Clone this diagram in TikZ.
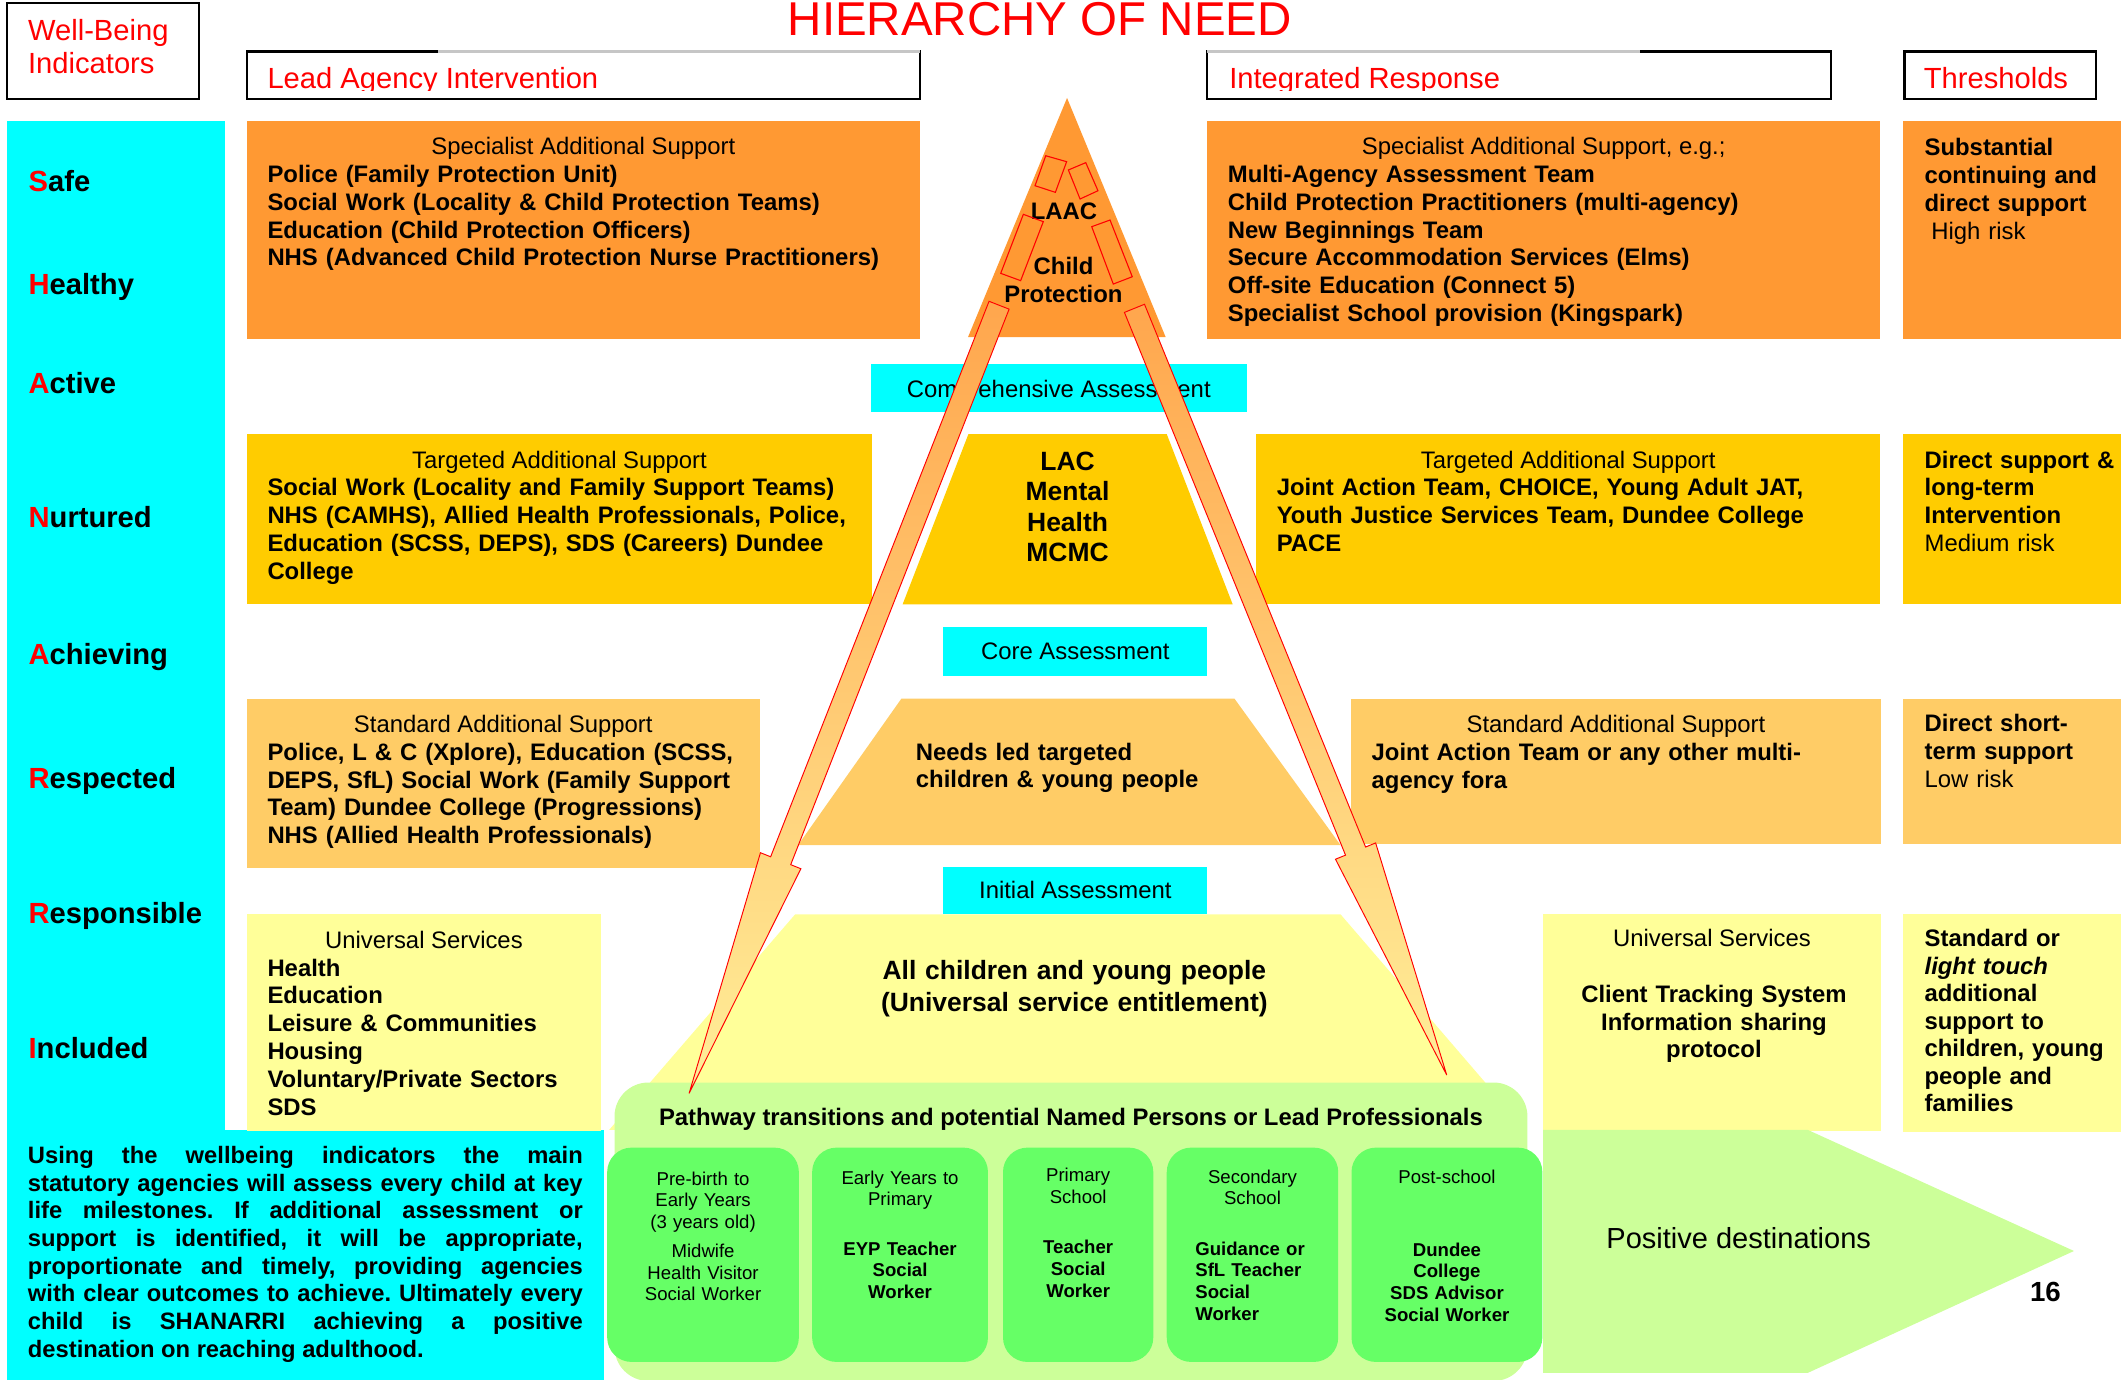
\documentclass[tikz,border=0pt]{standalone}
\usepackage{fontspec}
\setmainfont{Liberation Sans}
\usetikzlibrary{positioning, calc}

\definecolor{shanCyan}{HTML}{00FFFF}
\definecolor{tierOne}{HTML}{FF9933}
\definecolor{tierTwo}{HTML}{FFCC00}
\definecolor{tierThree}{HTML}{FFCC66}
\definecolor{tierFour}{HTML}{FFFF99}
\definecolor{paleGreen}{HTML}{CCFF99}
\definecolor{stageGreen}{HTML}{66FF66}
\definecolor{arrowTop}{HTML}{FFA64D}
\definecolor{arrowBot}{HTML}{FFEE99}

\newcommand{\bodyfont}{\fontsize{17.6}{20.5}\selectfont}
\newcommand{\headfont}{\fontsize{21.5}{25}\selectfont}
\newcommand{\stagefont}{\fontsize{13.7}{16}\selectfont}
\newcommand{\bigfont}{\fontsize{19.5}{22.5}\selectfont}
\newcommand{\notefont}{\fontsize{17.5}{20.43}\selectfont\frenchspacing}

\begin{document}
\begin{tikzpicture}[
    x=1pt, y=-1pt,          % pixel-like grid, y downwards
    panel/.style={inner sep=0pt, outer sep=0pt, anchor=north west, draw=none},
    hdrbox/.style={panel, draw=black, line width=1.6pt, fill=white, minimum height=35pt},
    hdrtext/.style={inner sep=0pt, anchor=base west, text=red, font=\headfont},
    ttl/.style={inner sep=0pt, anchor=base, font=\bodyfont},
    listtext/.style={inner sep=0pt, anchor=base west, text width=480pt, align=left, font=\bfseries\bodyfont},
    risk/.style={inner sep=0pt, anchor=base west, text width=150pt, align=left, font=\bodyfont},
    shantext/.style={inner sep=0pt, anchor=base west, font=\bfseries\headfont},
    midtext/.style={inner sep=0pt, anchor=base, text width=300pt, align=center, font=\bfseries\bodyfont},
    assess/.style={panel, fill=shanCyan},
    stage/.style={panel, fill=stageGreen, rounded corners=18pt, minimum height=158pt},
    stagetext/.style={inner sep=0pt, anchor=base, text width=140pt, align=center, font=\stagefont},
    remnant/.style={draw=red, line width=0.8pt},
    pathway/.style={draw=red, line width=0.7pt, top color=arrowTop, bottom color=arrowBot}
]
    \useasboundingbox (0,0) rectangle (1568,1017);

    % --- 1. header row ---
    \node[inner sep=0pt, anchor=base, text=red, font=\fontsize{35}{40}\selectfont] (title) at (766.5,26) {HIERARCHY OF NEED};

    \node[hdrbox, minimum width=142pt, minimum height=71pt] (wbBox) at (5,2) {};
    \node[hdrtext, text width=120pt, align=left] (wbText) at (20.5,29.5) {Well-Being\\Indicators};

    \node[hdrbox, minimum width=496pt] (leadBox) at (182,38) {};
    \node[hdrbox, minimum width=460pt] (intBox) at (890,38) {};
    \node[hdrbox, minimum width=141pt] (threshBox) at (1404,38) {};
    \draw[gray!45, line width=1.6pt] ([xshift=141pt]leadBox.north west) -- (leadBox.north east);
    \draw[gray!45, line width=1.6pt] (intBox.north west) -- ([xshift=319pt]intBox.north west);

    \begin{scope}
        \clip (0,0) rectangle (1568,67);
        \node[hdrtext] (leadText) at (197,65) {Lead Agency Intervention};
        \node[hdrtext] (intText) at (906,65) {Integrated Response};
        \node[hdrtext] (threshText) at (1418,65) {Thresholds};
    \end{scope}

    % --- 2. wellbeing column ---
    \node[panel, fill=shanCyan, minimum width=160.5pt, minimum height=744pt] (shanCol) at (5,89.5) {};
    \node[panel, fill=shanCyan, minimum width=440.5pt, minimum height=185pt] (noteBox) at (5,833) {};

    \foreach \first/\rest/\yy [count=\i] in {S/afe/141.4, H/ealthy/216.8, A/ctive/290.1,
        N/urtured/389.2, A/chieving/490, R/espected/581.2, R/esponsible/681, I/ncluded/780.2}
        \node[shantext] (shan\i) at (20.9,\yy) {\textcolor{red}{\first}\rest};

    % --- 3. tier one: specialist ---
    \node[panel, fill=tierOne, minimum width=496pt, minimum height=160.5pt] (specLeft) at (182,89.5) {};
    \node[ttl] (specLeftTitle) at ([yshift=-24.5pt]specLeft.north) {Specialist Additional Support};
    \node[listtext] (specLeftList) at ([xshift=15pt, yshift=-45pt]specLeft.north west)
        {Police (Family Protection Unit)\\
         Social Work (Locality \& Child Protection Teams)\\
         Education (Child Protection Officers)\\
         NHS (Advanced Child Protection Nurse Practitioners)};

    \node[panel, fill=tierOne, minimum width=496pt, minimum height=160.5pt] (specRight) at (890,89.5) {};
    \node[ttl] (specRightTitle) at ([yshift=-24.5pt]specRight.north) {Specialist Additional Support, e.g.;};
    \node[listtext] (specRightList) at ([xshift=15pt, yshift=-45pt]specRight.north west)
        {Multi-Agency Assessment Team\\
         Child Protection Practitioners (multi-agency)\\
         New Beginnings Team\\
         Secure Accommodation Services (Elms)\\
         Off-site Education (Connect 5)\\
         Specialist School provision (Kingspark)};

    \node[panel, fill=tierOne, minimum width=160.5pt, minimum height=160.5pt] (riskHigh) at (1403,89.5) {};
    \node[risk] (riskHighText) at (1418.6,114.8)
        {{\bfseries Substantial\\continuing and\\direct support}\\\hspace*{5pt}High risk};

    % pyramid top
    \fill[tierOne] (786.6,72.2) coordinate (apex) -- (859.3,248.5) -- (713.6,248.5) -- cycle;
    \node[inner sep=0pt, anchor=base, font=\bfseries\bodyfont] (laac) at (784.3,161.7) {LAAC};
    \node[inner sep=0pt, anchor=base, text width=100pt, align=center, font=\bfseries\bodyfont] (childProt)
        at (784,202.2) {Child\\Protection};
    \draw[remnant] (770.9,114.8) -- (786.3,119.2) -- (778,141.8) -- (763,136.9) -- cycle;
    \draw[remnant] (787.6,125.3) -- (800.4,119.9) -- (809.4,140.6) -- (796.2,146.7) -- cycle;
    \draw[remnant] (754.4,158) -- (769.1,163.4) -- (752.4,206.9) -- (737.7,201.5) -- cycle;
    \draw[remnant] (804.8,167.1) -- (818.3,162.2) -- (834.7,204) -- (820.7,209.4) -- cycle;

    \node[assess, minimum width=277.5pt, minimum height=35.5pt] (compBox) at (642,268) {};
    \node[ttl] (compText) at (780.5,293) {Comprehensive Assessment};

    % --- 4. tier two: targeted ---
    \node[panel, fill=tierTwo, minimum width=461pt, minimum height=125.5pt] (targLeft) at (182,320) {};
    \node[ttl] (targLeftTitle) at ([yshift=-25pt]targLeft.north) {Targeted Additional Support};
    \node[listtext] (targLeftList) at ([xshift=15pt, yshift=-45.5pt]targLeft.north west)
        {Social Work (Locality and Family Support Teams)\\
         NHS (CAMHS), Allied Health Professionals, Police,\\
         Education (SCSS, DEPS), SDS (Careers) Dundee\\
         College};

    \fill[tierTwo] (713.9,320) -- (860.1,320) -- (908.7,445.5) -- (665.4,445.5) -- cycle;
    \node[inner sep=0pt, anchor=base, text width=150pt, align=center, font=\bfseries\bigfont] (lacText)
        at (787,346.5) {LAC\\Mental\\Health\\MCMC};

    \node[panel, fill=tierTwo, minimum width=460pt, minimum height=125.5pt] (targRight) at (926,320) {};
    \node[ttl] (targRightTitle) at ([yshift=-25pt]targRight.north) {Targeted Additional Support};
    \node[listtext] (targRightList) at ([xshift=15pt, yshift=-45.5pt]targRight.north west)
        {Joint Action Team, CHOICE, Young Adult JAT,\\
         Youth Justice Services Team, Dundee College\\
         PACE};

    \node[panel, fill=tierTwo, minimum width=160.5pt, minimum height=125.5pt] (riskMed) at (1403,320) {};
    \node[risk] (riskMedText) at (1418.6,345)
        {{\bfseries Direct support \&\\long-term\\Intervention}\\Medium risk};

    \node[assess, minimum width=194.6pt, minimum height=35.8pt] (coreBox) at (695.4,462.5) {};
    \node[ttl] (coreText) at (792.7,486) {Core Assessment};

    % --- 5. tier three: standard ---
    \node[panel, fill=tierThree, minimum width=378pt, minimum height=124.6pt] (stdLeft) at (182,515) {};
    \node[ttl] (stdLeftTitle) at ([yshift=-25pt]stdLeft.north) {Standard Additional Support};
    \node[listtext] (stdLeftList) at ([xshift=15pt, yshift=-45.5pt]stdLeft.north west)
        {Police, L \& C (Xplore), Education (SCSS,\\
         DEPS, SfL) Social Work (Family Support\\
         Team) Dundee College (Progressions)\\
         NHS (Allied Health Professionals)};

    \fill[tierThree] (664.5,515) -- (910,515) -- (988.2,623) -- (588.3,623) -- cycle;
    \node[listtext] (needsText) at (675,560.3) {Needs led targeted\\children \& young people};

    \node[panel, fill=tierThree, minimum width=390.5pt, minimum height=107.5pt] (stdRight) at (996,515) {};
    \node[ttl] (stdRightTitle) at ([yshift=-25pt]stdRight.north) {Standard Additional Support};
    \node[listtext] (stdRightList) at ([xshift=15pt, yshift=-45.5pt]stdRight.north west)
        {Joint Action Team or any other multi-\\agency fora};

    \node[panel, fill=tierThree, minimum width=160.5pt, minimum height=107.5pt] (riskLow) at (1403,515) {};
    \node[risk] (riskLowText) at (1418.6,539.4)
        {{\bfseries Direct short-\\term support}\\Low risk};

    \node[assess, minimum width=194.6pt, minimum height=34.6pt] (initBox) at (695.4,639.4) {};
    \node[ttl] (initText) at (792.7,662.2) {Initial Assessment};

    % --- 6. tier four: universal ---
    \node[panel, fill=tierFour, minimum width=261pt, minimum height=159.5pt] (uniLeft) at (182,674) {};
    \node[ttl] (uniLeftTitle) at ([yshift=-25pt]uniLeft.north) {Universal Services};
    \node[listtext] (uniLeftList) at ([xshift=15pt, yshift=-45.5pt]uniLeft.north west)
        {Health\\Education\\Leisure \& Communities\\Housing\\Voluntary/Private Sectors\\SDS};

    \fill[tierFour] (586.2,674) -- (988.2,674) -- (1125,833) -- (449,833) -- cycle;
    \node[inner sep=0pt, anchor=base, text width=340pt, align=center, font=\bfseries\fontsize{19.5}{23.4}\selectfont]
        (allText) at (792,722.4) {All children and young people\\(Universal service entitlement)};

    \node[panel, fill=tierFour, minimum width=249pt, minimum height=160.5pt] (uniRight) at (1137.7,673.5) {};
    \node[ttl] (uniRightTitle) at (1262,698) {Universal Services};
    \node[midtext] (uniRightList) at (1263.5,738.8)
        {Client Tracking System\\Information sharing\\protocol};

    \node[panel, fill=tierFour, minimum width=160.5pt, minimum height=160.5pt] (riskStd) at (1403,673.8) {};
    \node[risk, font=\bfseries\fontsize{17.6}{20.27}\selectfont] (riskStdText) at (1418.6,697.9)
        {Standard or\\\textit{light touch}\\additional\\support to\\children, young\\people and\\families};

    % --- 7. note, pathway and destinations ---
    \node[inner sep=0pt, anchor=base west, text width=409pt, align=justify, font=\bfseries\notefont]
        (noteText) at (20.4,857.6)
        {Using the wellbeing indicators the main\linebreak
         statutory agencies will assess every child at key\linebreak
         life milestones. If additional assessment or\linebreak
         support is identified, it will be appropriate,\linebreak
         proportionate and timely, providing agencies\linebreak
         with clear outcomes to achieve. Ultimately every\linebreak
         child is SHANARRI achieving a positive\linebreak
         destination on reaching adulthood.};

    \node[panel, fill=paleGreen, rounded corners=25pt, minimum width=673pt, minimum height=220pt] (pathBox) at (453,798) {};
    \node[ttl, font=\bfseries\bodyfont] (pathTitle) at (789.5,830) {Pathway transitions and potential Named Persons or Lead Professionals};

    \node[stage, minimum width=141.3pt] (stageA) at (447.6,846) {};
    \node[stage, minimum width=129.6pt] (stageB) at (598.7,846) {};
    \node[stage, minimum width=110.8pt] (stageC) at (739.4,846) {};
    \node[stage, minimum width=126.4pt] (stageD) at (860.1,846) {};
    \node[stage, minimum width=140.7pt] (stageE) at (996.3,846) {};

    \node[stagetext] (stageAText) at (518.3,873.6)
        {Pre-birth to\\Early Years\\(3 years old)\\[5.4pt]Midwife\\Health Visitor\\Social Worker};
    \node[stagetext] (stageBText) at (663.5,873)
        {Early Years to\\Primary\\[20.2pt]{\bfseries EYP Teacher\\Social\\Worker}};
    \node[stagetext] (stageCText) at (794.8,871.1)
        {Primary\\School\\[21.3pt]{\bfseries Teacher\\Social\\Worker}};
    \node[stagetext] (stageDText) at (923.3,872.3) {Secondary\\School};
    \node[stagetext, anchor=base west, align=left] (stageDRoles) at (881,925.2)
        {\bfseries Guidance or\\SfL Teacher\\Social\\Worker};
    \node[stagetext] (stageEText) at (1066.7,872.3) {Post-school};
    \node[stagetext, font=\bfseries\stagefont] (stageERoles) at (1066.7,925.9)
        {Dundee\\College\\SDS Advisor\\Social Worker};

    \fill[paleGreen] (1137.6,833) -- (1332.8,833) -- (1528.9,922.2) -- (1332.8,1012) -- (1137.6,1012) -- cycle;
    \node[inner sep=0pt, anchor=base west, font=\fontsize{21.4}{25}\selectfont] (posDest) at (1184,920) {Positive destinations};
    \node[inner sep=0pt, anchor=base, font=\bfseries\fontsize{20.4}{24}\selectfont] (pageNum) at (1507.9,959.8) {16};

    % --- 8. escalation arrows ---
    \path[pathway] (729.1,222.1) -- (743.9,227.9) -- (582.9,637.4) -- (590.4,640.4)
        -- (508,806) -- (560.6,628.6) -- (568.1,631.6) -- cycle;
    \path[pathway] (828.9,230.3) -- (843.7,224.3) -- (1006.7,624.4) -- (1014.1,621.4)
        -- (1066.5,792.5) -- (984.5,633.4) -- (991.9,630.4) -- cycle;

\end{tikzpicture}
\end{document}
